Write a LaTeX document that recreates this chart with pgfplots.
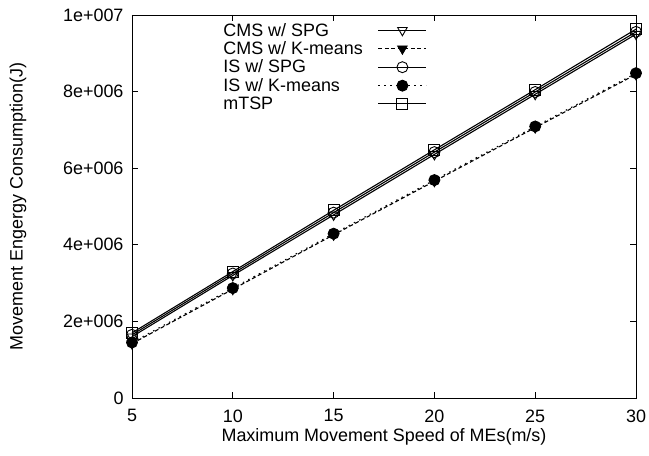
\documentclass[border=0pt]{standalone}
\usepackage{fontspec}
\setmainfont{Liberation Sans}
\usepackage{pgfplots}
\pgfplotsset{compat=1.18}
\newcommand{\gfont}{\fontsize{18}{18}\selectfont}
\begin{document}
\begin{tikzpicture}
\path[use as bounding box] (-132bp,-58bp) rectangle (517bp,398bp);
\begin{axis}[scale only axis,width=504bp,height=383bp,
  xmin=5,xmax=30,ymin=0,ymax=1e7,
  xtick={5,10,15,20,25,30},
  ytick={0,2e6,4e6,6e6,8e6,1e7},
  yticklabels={0,2e+006,4e+006,6e+006,8e+006,1e+007},
  scaled ticks=false,
  /pgf/number format/assume math mode=true,
  tick align=inside,major tick length=6bp,
  axis line style={line width=0.9bp},
  tick style={line width=0.9bp,black},
  tick label style={font=\gfont},
  label style={font=\gfont},
  xticklabel style={yshift=-8bp},
  yticklabel style={xshift=-5bp},
  xlabel={Maximum Movement Speed of MEs(m/s)},
  ylabel={Movement Engergy Consumption(J)},
  xlabel style={at={(rel axis cs:0.5,-0.102)},anchor=center},
  ylabel style={at={(rel axis cs:-0.226,0.5)},anchor=center},
  every axis plot/.append style={line width=1.1bp,black,mark size=5.5bp,
    every mark/.append style={solid,line width=0.9bp}},
  legend style={draw=none,fill=none,font=\gfont,nodes={font=\gfont},
    at={(rel axis cs:0.171,0.99)},anchor=north west,
    legend cell align=left,row sep=0bp,
    /tikz/every odd column/.append style={column sep=13bp}},
  legend plot pos=right,
  legend image code/.code={\draw[mark repeat=2,mark phase=2,#1]
    plot coordinates {(0bp,0bp)(24bp,0bp)(48bp,0bp)};},
]
\addplot[mark=triangle,every mark/.append style={rotate=180}] coordinates {
  (5,1.60e6) (10,3.20e6) (15,4.78e6) (20,6.36e6) (25,7.93e6) (30,9.50e6)};
\addlegendentry{CMS w/ SPG}
\addplot[dash pattern=on 4bp off 2.5bp,mark=triangle*,every mark/.append style={rotate=180}] coordinates {
  (5,1.42e6) (10,2.84e6) (15,4.26e6) (20,5.66e6) (25,7.06e6) (30,8.45e6)};
\addlegendentry{CMS w/ K-means}
\addplot[mark=o] coordinates {
  (5,1.65e6) (10,3.25e6) (15,4.84e6) (20,6.42e6) (25,7.99e6) (30,9.56e6)};
\addlegendentry{IS w/ SPG}
\addplot[dash pattern=on 1.5bp off 4.5bp,mark=*] coordinates {
  (5,1.45e6) (10,2.87e6) (15,4.29e6) (20,5.69e6) (25,7.09e6) (30,8.48e6)};
\addlegendentry{IS w/ K-means}
\addplot[mark=square] coordinates {
  (5,1.70e6) (10,3.30e6) (15,4.90e6) (20,6.48e6) (25,8.05e6) (30,9.63e6)};
\addlegendentry{mTSP}
\end{axis}
\end{tikzpicture}
\end{document}
